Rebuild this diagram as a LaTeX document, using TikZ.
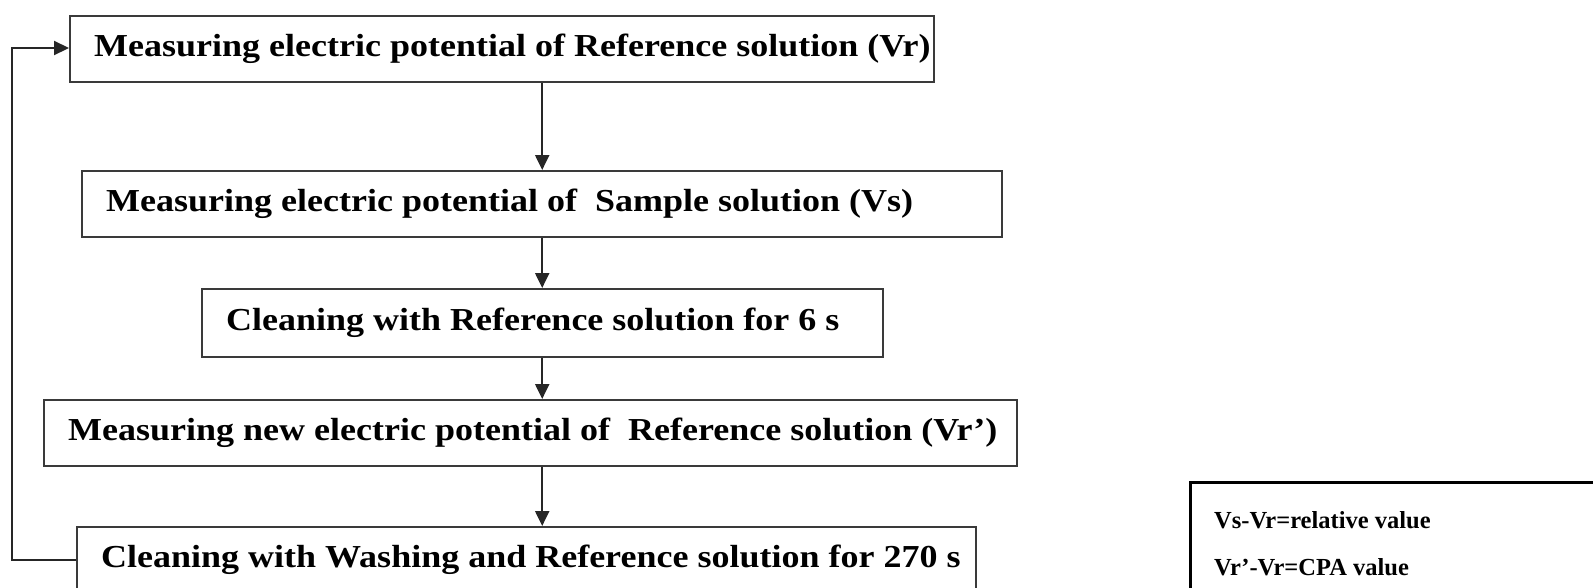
\documentclass[tikz,border=0pt]{standalone}
\usepackage{fontspec}
\setmainfont{Liberation Serif}[FakeStretch=1.125]
\newfontfamily\legendfont{Liberation Serif}
\usetikzlibrary{arrows.meta}
\definecolor{edge}{HTML}{3A3A3A}
\tikzset{
  stepbox/.style={draw=edge, line width=2.4pt, rectangle, minimum height=66pt,
    inner xsep=24pt, inner ysep=0pt,
    font=\fontsize{32}{36}\selectfont\bfseries, anchor=north west},
  flow/.style={draw=black!85, line width=2.2pt, -{Triangle[length=15pt,width=14pt]}},
  legendbox/.style={draw=black, line width=3pt, rectangle, anchor=north west},
  legendtext/.style={font=\legendfont\fontsize{24.5}{28}\selectfont\bfseries, anchor=west, inner sep=0pt}
}
\newcommand{\boxtext}[2]{\makebox[#1][l]{#2}}
\begin{document}
\begin{tikzpicture}[x=1pt,y=-1pt]
\useasboundingbox (0,0) rectangle (1593,587);
\clip (0,0) rectangle (1593,587);
\node[stepbox] (b1) at (69,15) {\boxtext{816pt}{Measuring electric potential of Reference solution (Vr)}};
\node[stepbox] (b2) at (81,170) {\boxtext{872pt}{Measuring electric potential of\ \ Sample solution (Vs)}};
\node[stepbox, minimum height=68pt] (b3) at (201,288) {\boxtext{633pt}{Cleaning with Reference solution for 6 s}};
\node[stepbox] (b4) at (43,399) {\boxtext{925pt}{Measuring new electric potential of\ \ Reference solution (Vr’)}};
\node[stepbox] (b5) at (76,526) {\boxtext{851pt}{Cleaning with Washing and Reference solution for 270 s}};
\coordinate (ax) at (b2.north);
\draw[flow] (b1.south -| ax) -- (b2.north);
\draw[flow] (b2.south) -- (b3.north -| ax);
\draw[flow] (b3.south -| ax) -- (b4.north -| ax);
\draw[flow] (b4.south -| ax) -- (b5.north -| ax);
\coordinate (lb) at (12,560);
\coordinate (lt) at (12,48);
\draw[flow] (b5.west |- lb) -- (lb) -- (lt) -- (b1.west |- lt);
\node[legendbox, minimum width=430pt, minimum height=140pt] (leg) at (1189,481) {};
\node[legendtext] (l1) at (1214,520) {Vs-Vr=relative value};
\node[legendtext] (l2) at (1214,567) {Vr’-Vr=CPA value};
\end{tikzpicture}
\end{document}
